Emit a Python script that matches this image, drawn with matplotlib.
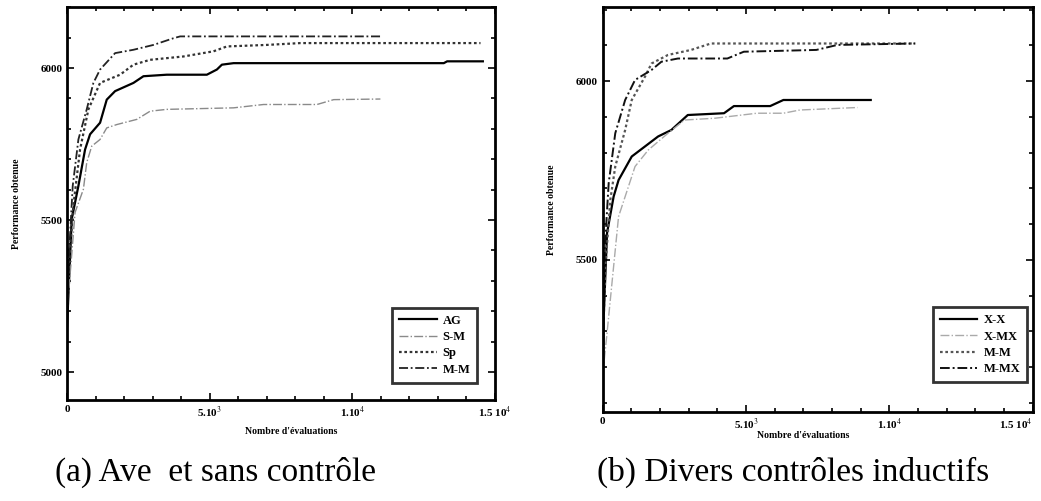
import numpy as np
import matplotlib
matplotlib.use("Agg")
import matplotlib.pyplot as plt
from matplotlib.ticker import MultipleLocator

plt.rcParams["font.family"] = ["Liberation Serif", "DejaVu Serif"]
plt.rcParams["mathtext.fontset"] = "stix"

# (a) Avec et sans controle
ag_x = [0, 47, 164, 398, 632, 807, 1158, 1392, 1685, 2328, 2679, 3498, 4902, 5253, 5429, 5838, 13209, 13326, 14578]
ag_y = [5150, 5250, 5503, 5612, 5732, 5782, 5820, 5896, 5924, 5951, 5973, 5978, 5978, 5995, 6011, 6016, 6016, 6022, 6022]
sm_x = [0, 47, 281, 573, 690, 866, 1158, 1392, 1743, 2445, 2913, 3498, 5838, 6891, 8763, 9348, 10986]
sm_y = [5180, 5250, 5525, 5601, 5689, 5743, 5765, 5803, 5814, 5831, 5858, 5864, 5869, 5880, 5880, 5896, 5898]
sp_x = [0, 47, 222, 456, 749, 1158, 1860, 2328, 2913, 4083, 5136, 5604, 7008, 8178, 14496]
sp_y = [5200, 5330, 5547, 5732, 5864, 5951, 5978, 6011, 6027, 6038, 6055, 6071, 6076, 6082, 6082]
mm_x = [0, 47, 199, 398, 690, 924, 1158, 1685, 2328, 3030, 3732, 3966, 10986]
mm_y = [5220, 5350, 5612, 5765, 5864, 5951, 5995, 6049, 6060, 6076, 6098, 6104, 6104]

# (b) Divers controles inductifs
xx_x = [0, 35, 150, 380, 552, 1012, 1472, 1932, 2392, 2967, 4232, 4577, 5842, 6302, 9350]
xx_y = [5150, 5342, 5575, 5677, 5723, 5789, 5817, 5845, 5863, 5905, 5910, 5930, 5930, 5947, 5947]
xmx_x = [0, 150, 322, 552, 782, 1127, 1587, 2277, 2852, 3912, 5382, 6302, 6877, 8890]
xmx_y = [5180, 5295, 5435, 5621, 5677, 5761, 5807, 5854, 5891, 5896, 5910, 5910, 5919, 5926]
mm2_x = [0, 92, 265, 437, 782, 1012, 1472, 1702, 2277, 3082, 3772, 10902]
mm2_y = [5250, 5481, 5668, 5761, 5863, 5947, 6012, 6049, 6073, 6087, 6105, 6105]
mmx_x = [0, 69, 207, 437, 782, 1127, 1702, 2047, 2622, 4347, 4922, 7452, 8188, 10902]
mmx_y = [5250, 5528, 5714, 5854, 5947, 6003, 6031, 6054, 6063, 6063, 6082, 6087, 6101, 6105]

xticks = [0, 5000, 10000, 15000]
xtick_labels = ["0", r"5.10$^3$", r"1.10$^4$", r"1.5 10$^4$"]

fig = plt.figure(figsize=(10.41, 5.01), dpi=100)
ax1 = fig.add_axes([0.0644, 0.2016, 0.411, 0.784])
ax2 = fig.add_axes([0.579, 0.178, 0.413, 0.808])

dashdot = (0, (5, 1.5, 1, 1.5))
dotted = (0, (1.2, 1.2))

ax1.plot(ag_x, ag_y, color="black", lw=1.6, label="AG")
ax1.plot(sm_x, sm_y, color="#8a8a8a", lw=1.0, ls="-.", label="S-M")
ax1.plot(sp_x, sp_y, color="#333333", lw=1.6, ls=dotted, label="Sp")
ax1.plot(mm_x, mm_y, color="#222222", lw=1.3, ls=dashdot, label="M-M")
ax1.set_ylim(4908, 6200)
ax1.set_yticks([5000, 5500, 6000])

ax2.plot(xx_x, xx_y, color="black", lw=1.6, label="X-X")
ax2.plot(xmx_x, xmx_y, color="#aaaaaa", lw=1.0, ls="-.", label="X-MX")
ax2.plot(mm2_x, mm2_y, color="#555555", lw=1.6, ls=dotted, label="M-M")
ax2.plot(mmx_x, mmx_y, color="#111111", lw=1.4, ls=dashdot, label="M-MX")
ax2.set_ylim(5075, 6207)
ax2.set_yticks([5500, 6000])

leg_anchor = {ax1: (0.965, 0.038), ax2: (0.993, 0.067)}
for ax in (ax1, ax2):
    ax.set_xlim(0, 15000)
    ax.set_xticks(xticks)
    ax.set_xticklabels(xtick_labels)
    ax.xaxis.set_minor_locator(MultipleLocator(1000))
    ax.yaxis.set_minor_locator(MultipleLocator(100))
    ax.tick_params(which="both", direction="in", top=True, right=True, labelsize=8, width=1.2)
    ax.tick_params(which="major", length=5)
    ax.tick_params(which="minor", length=3)
    for lab in ax.get_xticklabels() + ax.get_yticklabels():
        lab.set_fontweight("bold")
    for sp in ax.spines.values():
        sp.set_linewidth(2)
    ax.set_ylabel("Performance obtenue", fontsize=7, fontweight="bold", labelpad=14)
    leg = ax.legend(loc="lower right", bbox_to_anchor=leg_anchor[ax], frameon=True,
                    fancybox=False, edgecolor="black", handlelength=3.0, handletextpad=0.5,
                    borderpad=0.55, borderaxespad=0.2, labelspacing=0.35,
                    prop={"weight": "bold", "size": 9})
    leg.get_frame().set_linewidth(2)

# last tick label of the right panel is clipped in the reference; keep it inside
ax2.get_xticklabels()[-1].set_horizontalalignment("right")

fig.text(0.280, 0.139, "Nombre d'évaluations", ha="center", va="center", fontsize=7, fontweight="bold")
fig.text(0.772, 0.131, "Nombre d'évaluations", ha="center", va="center", fontsize=7, fontweight="bold")

fig.text(0.207, 0.058, "(a) Ave  et sans contrôle", ha="center", va="center", fontsize=24)
fig.text(0.762, 0.058, "(b) Divers contrôles inductifs", ha="center", va="center", fontsize=24)

fig.savefig("out.png", dpi=100)
